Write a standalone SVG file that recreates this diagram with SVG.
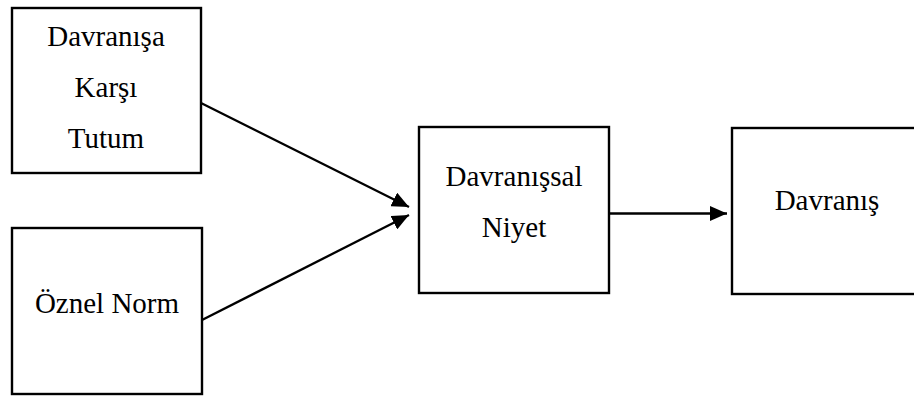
<svg xmlns="http://www.w3.org/2000/svg" width="914" height="396" viewBox="0 0 914 396">
  <style>
    .box { fill: #ffffff; stroke: #000000; stroke-width: 2.4; }
    .lbl { font-family: "Liberation Serif", "Times New Roman", serif; font-size: 29px; fill: #000000; text-anchor: middle; }
    .link { fill: none; stroke: #000000; stroke-width: 2.3; }
  </style>
  <defs>
    <marker id="head" viewBox="0 0 17 15" refX="17" refY="7.5" markerWidth="17" markerHeight="15" markerUnits="userSpaceOnUse" orient="auto">
      <path d="M0,0 L17,7.5 L0,15 Z" fill="#000000"/>
    </marker>
  </defs>
  <rect x="0" y="0" width="914" height="396" fill="#ffffff"/>

  <g id="tutum">
    <rect class="box" x="12" y="8" width="189" height="165"/>
    <text class="lbl" x="106" y="46">Davranışa</text>
    <text class="lbl" x="106" y="97">Karşı</text>
    <text class="lbl" x="106" y="148">Tutum</text>
  </g>

  <g id="oznel-norm">
    <rect class="box" x="12" y="228" width="190" height="166"/>
    <text class="lbl" x="107" y="313">Öznel Norm</text>
  </g>

  <g id="niyet">
    <rect class="box" x="419" y="127" width="190" height="166"/>
    <text class="lbl" x="514" y="186">Davranışsal</text>
    <text class="lbl" x="514" y="237">Niyet</text>
  </g>

  <g id="davranis">
    <rect class="box" x="732" y="128" width="210" height="166"/>
    <text class="lbl" x="827" y="210">Davranış</text>
  </g>

  <g id="connectors">
    <line class="link" x1="201" y1="103" x2="409" y2="207" marker-end="url(#head)"/>
    <line class="link" x1="202" y1="320" x2="409" y2="215" marker-end="url(#head)"/>
    <line class="link" x1="609" y1="213.5" x2="727" y2="213.5" marker-end="url(#head)"/>
  </g>
</svg>
